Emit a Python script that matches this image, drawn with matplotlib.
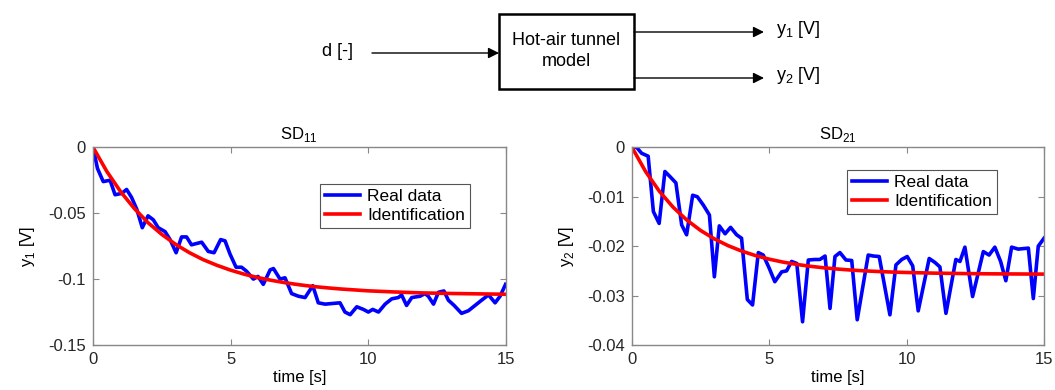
import matplotlib
matplotlib.use('Agg')
import matplotlib.pyplot as plt
from matplotlib.patches import Rectangle

plt.rcParams['font.family'] = ['Liberation Sans', 'DejaVu Sans']
plt.rcParams['mathtext.fontset'] = 'custom'
plt.rcParams['mathtext.rm'] = 'Liberation Sans'

# SD11: real data (time, y1)
t1_real = [0, 0.16, 0.37, 0.62, 0.8, 1.04, 1.22, 1.4, 1.59, 1.79, 2.0, 2.19, 2.37, 2.62, 2.8,
           3.02, 3.22, 3.4, 3.58, 3.95, 4.19, 4.4, 4.64, 4.8, 4.98, 5.2, 5.4, 5.58, 5.83, 6.0,
           6.19, 6.44, 6.56, 6.8, 6.98, 7.22, 7.47, 7.71, 7.99, 8.19, 8.44, 8.98, 9.16, 9.35,
           9.59, 9.83, 10.01, 10.17, 10.38, 10.62, 10.86, 11.1, 11.22, 11.4, 11.59, 11.89,
           12.07, 12.19, 12.38, 12.56, 12.76, 12.92, 13.13, 13.4, 13.65, 13.89, 14.13, 14.38,
           14.62, 14.8, 15.0]
y1_real = [0, -0.016, -0.026, -0.025, -0.036, -0.035, -0.032, -0.038, -0.047, -0.061, -0.052,
           -0.055, -0.061, -0.064, -0.070, -0.080, -0.068, -0.068, -0.074, -0.072, -0.079,
           -0.080, -0.070, -0.071, -0.081, -0.091, -0.091, -0.094, -0.100, -0.098, -0.104,
           -0.093, -0.092, -0.100, -0.099, -0.111, -0.113, -0.114, -0.105, -0.118, -0.119,
           -0.118, -0.125, -0.127, -0.121, -0.123, -0.125, -0.123, -0.125, -0.119, -0.115,
           -0.114, -0.112, -0.120, -0.114, -0.113, -0.111, -0.113, -0.119, -0.110, -0.109,
           -0.116, -0.120, -0.126, -0.124, -0.120, -0.116, -0.112, -0.118, -0.113, -0.104]

# SD11: identified model response
t_id = [0, 0.5, 1, 1.5, 2, 2.5, 3, 3.5, 4, 4.5, 5, 5.5, 6, 6.5, 7, 7.5, 8, 8.5, 9, 9.5,
        10, 11, 12, 13, 14, 15]
y1_id = [0, -0.0183, -0.0336, -0.0464, -0.0572, -0.0661, -0.0736, -0.0799, -0.0852, -0.0895,
         -0.0932, -0.0963, -0.0989, -0.1010, -0.1028, -0.1043, -0.1056, -0.1066, -0.1075,
         -0.1082, -0.1089, -0.1098, -0.1105, -0.1109, -0.1112, -0.1115]

# SD21: real data (time, y2)
t2_real = [0, 0.17, 0.35, 0.59, 0.78, 0.99, 1.2, 1.38, 1.6, 1.81, 1.99, 2.21, 2.38, 2.6, 2.82,
           3.0, 3.18, 3.39, 3.59, 3.81, 3.99, 4.2, 4.39, 4.6, 4.78, 5.0, 5.2, 5.45, 5.63, 5.81,
           6.0, 6.21, 6.42, 6.66, 6.84, 7.03, 7.21, 7.39, 7.57, 7.79, 8.0, 8.2, 8.6, 8.79, 9.0,
           9.39, 9.61, 9.82, 10.02, 10.22, 10.42, 10.82, 11.03, 11.21, 11.43, 11.79, 11.94,
           12.12, 12.4, 12.79, 13.0, 13.21, 13.42, 13.61, 13.82, 14.06, 14.43, 14.61, 14.79, 15.0]
y2_real = [0, 0, -0.0012, -0.0018, -0.0130, -0.0154, -0.0049, -0.0059, -0.0072, -0.0157,
           -0.0177, -0.0097, -0.0100, -0.0117, -0.0137, -0.0262, -0.0159, -0.0175, -0.0162,
           -0.0177, -0.0184, -0.0308, -0.0319, -0.0213, -0.0218, -0.0245, -0.0272, -0.0252,
           -0.0250, -0.0231, -0.0235, -0.0353, -0.0228, -0.0227, -0.0227, -0.0220, -0.0326,
           -0.0221, -0.0213, -0.0228, -0.0229, -0.0349, -0.0218, -0.0220, -0.0221, -0.0339,
           -0.0238, -0.0227, -0.0221, -0.0240, -0.0331, -0.0225, -0.0233, -0.0242, -0.0336,
           -0.0227, -0.0231, -0.0202, -0.0302, -0.0211, -0.0218, -0.0202, -0.0231, -0.0270,
           -0.0202, -0.0206, -0.0204, -0.0306, -0.0200, -0.0184]

# SD21: identified model response
y2_id = [0, -0.00493, -0.00891, -0.01213, -0.01473, -0.01683, -0.01853, -0.01990, -0.02101,
         -0.02191, -0.02264, -0.02323, -0.02370, -0.02408, -0.02439, -0.02464, -0.02485,
         -0.02501, -0.02514, -0.02525, -0.02533, -0.02546, -0.02554, -0.02560, -0.02563,
         -0.02566]

x_ticks = [0, 5, 10, 15]
y1_ticks = [0, -0.05, -0.1, -0.15]
y1_ticklabels = ['0', '-0.05', '-0.1', '-0.15']
y2_ticks = [0, -0.01, -0.02, -0.03, -0.04]
y2_ticklabels = ['0', '-0.01', '-0.02', '-0.03', '-0.04']

fig = plt.figure(figsize=(10.55, 3.9), dpi=100)

# block diagram drawn in pixel coordinates
ax_d = fig.add_axes([0, 0, 1, 1])
ax_d.set_xlim(0, 1055)
ax_d.set_ylim(390, 0)
ax_d.axis('off')
ax_d.add_patch(Rectangle((499, 14), 135, 75, fill=False, lw=1.8, ec='k'))
arrow = dict(arrowstyle='-|>', color='k', lw=1, mutation_scale=16, shrinkA=0, shrinkB=0)
ax_d.annotate('', xy=(499, 53), xytext=(372, 53), arrowprops=arrow)
ax_d.annotate('', xy=(764, 32), xytext=(634, 32), arrowprops=arrow)
ax_d.annotate('', xy=(764, 78), xytext=(634, 78), arrowprops=arrow)
ax_d.text(566, 51, 'Hot-air tunnel\nmodel', ha='center', va='center', fontsize=13,
          linespacing=1.25)
ax_d.text(338, 52, 'd [-]', ha='center', va='center', fontsize=13)
ax_d.text(776, 30, r'y$_{\mathregular{1}}$ [V]', ha='left', va='center', fontsize=13)
ax_d.text(776, 75, r'y$_{\mathregular{2}}$ [V]', ha='left', va='center', fontsize=13)

ax1 = fig.add_axes([0.0882, 0.1154, 0.391, 0.5069])
ax2 = fig.add_axes([0.599, 0.1154, 0.3906, 0.5069])

panels = [
    (ax1, t1_real, y1_real, y1_id, y1_ticks, y1_ticklabels, (-0.15, 0),
     r'SD$_{\mathregular{11}}$', r'y$_{\mathregular{1}}$ [V]', (0.914, 0.814)),
    (ax2, t2_real, y2_real, y2_id, y2_ticks, y2_ticklabels, (-0.04, 0),
     r'SD$_{\mathregular{21}}$', r'y$_{\mathregular{2}}$ [V]', (0.886, 0.885)),
]

for ax, tr, yr, yi, yt, ytl, ylim, title, ylabel, anchor in panels:
    ax.plot(tr, yr, color='#0000ff', lw=2.6, label='Real data')
    ax.plot(t_id, yi, color='#ff0000', lw=2.6, label='Identification')
    ax.set_xlim(0, 15)
    ax.set_ylim(*ylim)
    ax.set_xticks(x_ticks)
    ax.set_yticks(yt)
    ax.set_yticklabels(ytl)
    ax.tick_params(direction='in', length=4, colors='#262626', labelsize=12,
                   top=True, right=True, pad=5)
    ax.tick_params(axis='both', which='both', color='#888888')
    for s in ax.spines.values():
        s.set_color('#888888')
        s.set_linewidth(1)
    ax.set_title(title, fontsize=12, pad=6)
    ax.set_ylabel(ylabel, fontsize=12, labelpad=8)
    ax.set_xlabel('time [s]', fontsize=12, labelpad=2)
    leg = ax.legend(loc='upper right', bbox_to_anchor=anchor, fontsize=12.5,
                    fancybox=False, edgecolor='#555555', framealpha=1,
                    handlelength=2.0, borderpad=0.3, labelspacing=0.2,
                    handletextpad=0.4, borderaxespad=0)
    leg.get_frame().set_linewidth(0.8)

fig.savefig('out.png', dpi=100)
